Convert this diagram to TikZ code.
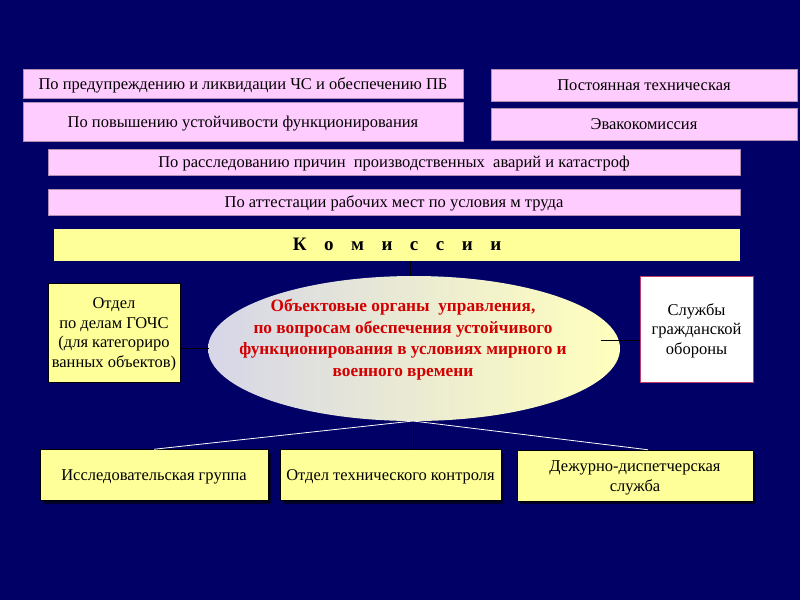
\documentclass[tikz,border=0pt]{standalone}
\usepackage{fontspec}
\setmainfont{Liberation Serif}
\usetikzlibrary{shadows}
\begin{document}
\begin{tikzpicture}[x=1pt,y=-1pt,
  base/.style={rectangle, inner sep=0pt, align=center, font=\fontsize{16.5}{20}\selectfont},
  oneline/.style={text height=11pt, text depth=0pt},
  pinkbox/.style={base, oneline, fill=pinkc, draw=pinkc!70!black, line width=0.4pt},
  yelbox/.style={base, fill=yelc, draw=black, line width=0.5pt},
  botbox/.style={yelbox, drop shadow={shadow xshift=3pt, shadow yshift=-3pt, fill=black, opacity=0.6}},
  whitebox/.style={base, fill=white, draw=borderc, line width=0.8pt},
  darkline/.style={draw=black, line width=0.7pt},
  whiteline/.style={draw=white, line width=0.8pt}]
\definecolor{bgc}{RGB}{0,0,102}
\definecolor{pinkc}{RGB}{255,204,255}
\definecolor{yelc}{RGB}{255,255,153}
\definecolor{borderc}{RGB}{190,60,110}
\definecolor{elll}{RGB}{214,214,232}
\definecolor{ellr}{RGB}{255,255,190}
\definecolor{redt}{RGB}{210,0,0}
\useasboundingbox (0,0) rectangle (800,600);
\fill[bgc] (0,0) rectangle (800,600);

% top pink boxes
\node[pinkbox, minimum width=440, minimum height=29] (pb) at (243,83.5) {По предупреждению и ликвидации ЧС и обеспечению ПБ};
\node[pinkbox, minimum width=440, minimum height=39] (pu) at (243,121.5) {По повышению устойчивости функционирования};
\node[pinkbox, minimum width=306, minimum height=32] (pt) at (644,85) {Постоянная техническая};
\node[pinkbox, minimum width=306, minimum height=32] (ev) at (644,124) {Эвакокомиссия};
\node[pinkbox, minimum width=692, minimum height=26] (pr) at (394,162) {По расследованию причин\ \ производственных\ \ аварий и катастроф};
\node[pinkbox, minimum width=692, minimum height=26] (pa) at (394,202) {По аттестации рабочих мест по условия м труда};

% komissii
\node[yelbox, oneline, draw=none, minimum width=686, minimum height=32, font=\fontsize{19}{22}\selectfont\bfseries] (km) at (397,245)
  {К\hspace{17.5pt}о\hspace{17.5pt}м\hspace{17.5pt}и\hspace{17.5pt}с\hspace{17.5pt}с\hspace{17.5pt}и\hspace{17.5pt}и};

% ellipse
\coordinate (ec) at (414,348.5);
\shade[left color=elll, right color=ellr] (ec) ellipse [x radius=206, y radius=72.5];
\node[base, font=\fontsize{17.3}{21.7}\selectfont\bfseries, text=redt] (el) at (403,339.5)
  {Объектовые органы\ \ управления,\\по вопросам обеспечения устойчивого\\функционирования в условиях мирного и\\военного времени};
\coordinate (etop) at (410,276);
\coordinate (ebot) at (413,421);
\coordinate (eleft) at (208.5,348);
\coordinate (eright) at (601,340);

% side boxes
\node[yelbox, minimum width=132, minimum height=99, font=\fontsize{16.5}{19.5}\selectfont] (go) at (114,332.5)
  {\rule{0pt}{14pt}Отдел\\ по делам ГОЧС\\(для категориро\\ванных объектов)};
\node[whitebox, minimum width=113, minimum height=106, font=\fontsize{16.5}{19.5}\selectfont] (sl) at (696.5,329)
  {\rule{0pt}{15pt}Службы\\гражданской\\обороны};

% bottom boxes
\node[botbox, oneline, minimum width=228, minimum height=51] (ig) at (154,475) {Исследовательская группа};
\node[botbox, oneline, minimum width=221, minimum height=51] (ot) at (390.5,475) {Отдел технического контроля};
\node[botbox, minimum width=236, minimum height=51] (dd) at (635,475.5) {\rule{0pt}{16pt}Дежурно-диспетчерская\\служба};

% connectors
\draw[darkline] (km.south -| etop) -- (etop);
\draw[darkline] (go.east |- eleft) -- (eleft);
\draw[darkline] (eright) -- (sl.west |- eright);
\draw[darkline] (ebot) -- (ebot |- ot.north);
\draw[whiteline] (ebot) -- (ig.north);
\draw[whiteline] (ebot) -- ([xshift=13pt]dd.north);
\end{tikzpicture}
\end{document}
